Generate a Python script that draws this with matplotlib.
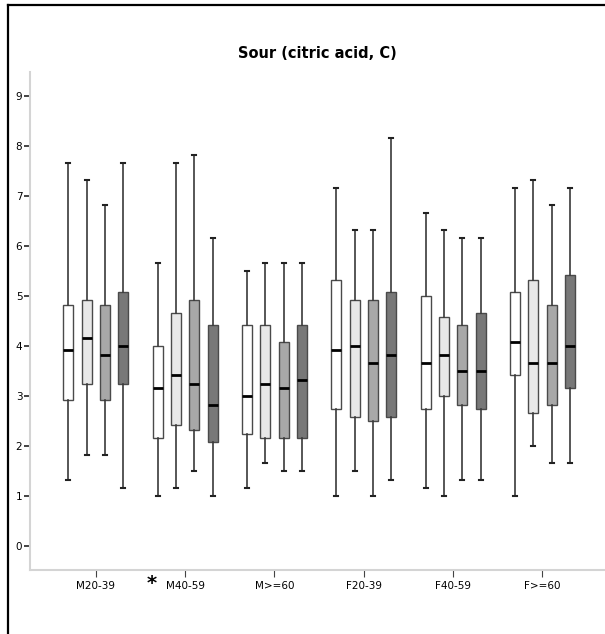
import numpy as np
import matplotlib.pyplot as plt
from matplotlib import transforms
from matplotlib.lines import Line2D

groups = ["M20-39", "M40-59", "M>=60", "F20-39", "F40-59", "F>=60"]

# one row per group, four boxes per group (white, light, mid, dark)
whisker_low = [[1.33, 1.83, 1.83, 1.17], [1.00, 1.17, 1.50, 1.00], [1.17, 1.67, 1.50, 1.50],
               [1.00, 1.50, 1.00, 1.33], [1.17, 1.00, 1.33, 1.33], [1.00, 2.00, 1.67, 1.67]]
q1 = [[2.92, 3.25, 2.92, 3.25], [2.17, 2.42, 2.33, 2.08], [2.25, 2.17, 2.17, 2.17],
      [2.75, 2.58, 2.50, 2.58], [2.75, 3.00, 2.83, 2.75], [3.42, 2.67, 2.83, 3.17]]
median = [[3.92, 4.17, 3.83, 4.00], [3.17, 3.42, 3.25, 2.83], [3.00, 3.25, 3.17, 3.33],
          [3.92, 4.00, 3.67, 3.83], [3.67, 3.83, 3.50, 3.50], [4.08, 3.67, 3.67, 4.00]]
q3 = [[4.83, 4.92, 4.83, 5.08], [4.00, 4.67, 4.92, 4.42], [4.42, 4.42, 4.08, 4.42],
      [5.33, 4.92, 4.92, 5.08], [5.00, 4.58, 4.42, 4.67], [5.08, 5.33, 4.83, 5.42]]
whisker_high = [[7.67, 7.33, 6.83, 7.67], [5.67, 7.67, 7.83, 6.17], [5.50, 5.67, 5.67, 5.67],
                [7.17, 6.33, 6.33, 8.17], [6.67, 6.33, 6.17, 6.17], [7.17, 7.33, 6.83, 7.17]]

box_colors = ["#ffffff", "#e8e8e8", "#a8a8a8", "#787878"]
offsets = [-0.308, -0.103, 0.103, 0.308]

fig = plt.figure(figsize=(6.05, 6.34), dpi=100)
ax = fig.add_axes([30 / 605, 1 - 570 / 634, 1 - 30 / 605, (570 - 72) / 634])

x = np.arange(len(groups))
for j in range(4):
    stats = []
    for i in range(len(groups)):
        stats.append(dict(whislo=whisker_low[i][j], q1=q1[i][j], med=median[i][j],
                          q3=q3[i][j], whishi=whisker_high[i][j], fliers=[]))
    ax.bxp(stats, positions=x + offsets[j], widths=0.112, patch_artist=True,
           showfliers=False, manage_ticks=False, capwidths=0.045,
           boxprops=dict(facecolor=box_colors[j], edgecolor="#4a4a4a", linewidth=1),
           medianprops=dict(color="black", linewidth=2),
           whiskerprops=dict(color="#3a3a3a", linewidth=1.2),
           capprops=dict(color="#222222", linewidth=1.5))

ax.set_xlim(-0.736, 5.70)
ax.set_ylim(-0.48, 9.48)
ax.set_yticks(range(10))
ax.set_xticks(x)
ax.set_xticklabels(groups, fontsize=7.5)
ax.tick_params(axis="y", length=4.5, width=1.2, color="#222222", pad=1, labelsize=7.5)
ax.tick_params(axis="x", length=5, width=0.8, color="#444444", pad=3)
for s in ["top", "right"]:
    ax.spines[s].set_visible(False)
for s in ["left", "bottom"]:
    ax.spines[s].set_color("#d4d4d4")
    ax.spines[s].set_linewidth(1.5)

ax.set_title("Sour (citric acid, C)", fontsize=10.5, fontweight="bold", pad=10)

# asterisk next to M40-59
trans = transforms.blended_transform_factory(ax.transData, ax.transAxes)
ax.text(0.627, -0.027, "*", transform=trans, ha="center", va="center",
        fontsize=14, fontweight="bold", clip_on=False)

# outer frame (left and top only)
fig.add_artist(Line2D([8 / 605, 8 / 605], [0, 1 - 5 / 634], color="black", lw=1.6))
fig.add_artist(Line2D([8 / 605, 1], [1 - 5 / 634, 1 - 5 / 634], color="black", lw=1.6))

fig.savefig("out.png", dpi=100)
